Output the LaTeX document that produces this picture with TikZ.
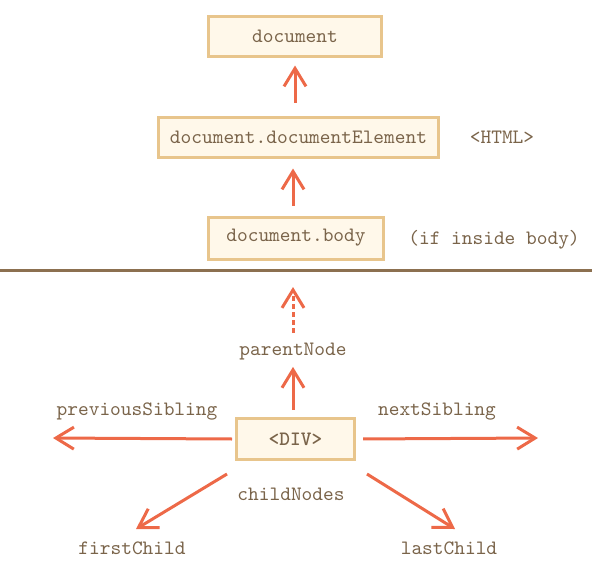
\documentclass[tikz,border=0pt]{standalone}
\usetikzlibrary{arrows.meta}
\definecolor{boxfill}{RGB}{255,248,234}
\definecolor{boxline}{RGB}{232,197,140}
\definecolor{arrowred}{RGB}{237,105,72}
\definecolor{txtbrown}{RGB}{122,100,74}
\definecolor{rulebrown}{RGB}{140,112,80}
\begin{document}
\begin{tikzpicture}[x=0.5pt,y=-0.5pt]
			\tikzstyle{every node}+=[font=\ttfamily\fontsize{10.2}{12}\selectfont, text=txtbrown, inner sep=0pt]
			\tikzstyle{box}=[draw=boxline, fill=boxfill, line width=1.5pt, minimum height=20pt]
			\tikzstyle{arr}=[draw=arrowred, line width=1.5pt, -{Straight Barb[length=9pt,width=11pt]}]
			\useasboundingbox (0,0) rectangle (592,575);
			\node [box, minimum width=86.5pt] (doc) at (295,36) {document};
			\node [box, minimum width=140pt] (elem) at (298.5,137) {document.documentElement};
			\node [box, minimum width=87.5pt, minimum height=21pt] (body) at (296,238) {document.body};
			\node (html) at (502,137) {<HTML>};
			\node (inside) at (494,240) {(if inside body)};
			\draw [rulebrown, line width=1.5pt] (0,270) -- (592,270);
			\draw [arr, shorten <=6.5pt, shorten >=4pt] (elem.north -| doc.south) -- (doc.south);
			\draw [arr, shorten <=5pt, shorten >=5pt] (body.north -| 293,0) -- (elem.south -| 293,0);
			\node [box, minimum width=59pt, minimum height=20.5pt, font=\ttfamily\bfseries\fontsize{10.2}{12}\selectfont] (div) at (295.5,439) {<DIV>};
			\node (parent) at (293,352) {parentNode};
			\node (prev) at (137,411) {previousSibling};
			\node (next) at (437,411) {nextSibling};
			\node (child) at (291,494) {childNodes};
			\node (first) at (132,548) {firstChild};
			\node (last) at (449,548) {lastChild};
			\coordinate (top) at (293,287);
			\coordinate (left) at (53,438);
			\coordinate (right) at (538,438);
			\coordinate (firsttip) at (136,529);
			\coordinate (lasttip) at (455,529);
			\draw [arr, shorten <=3.5pt, shorten >=3pt] (div.north -| parent) -- (parent.south);
			\draw [arr, dash pattern=on 2.5pt off 1.5pt] ([yshift=5pt]parent.north) -- (top);
			\draw [arr, shorten <=1.5pt] (div.west) -- (left);
			\draw [arr, shorten <=3.5pt] (div.east) -- (right);
			\draw [arr] ([shift={(-8,13)}]div.south west) -- (firsttip);
			\draw [arr] ([shift={(11,13)}]div.south east) -- (lasttip);
\end{tikzpicture}
\end{document}
